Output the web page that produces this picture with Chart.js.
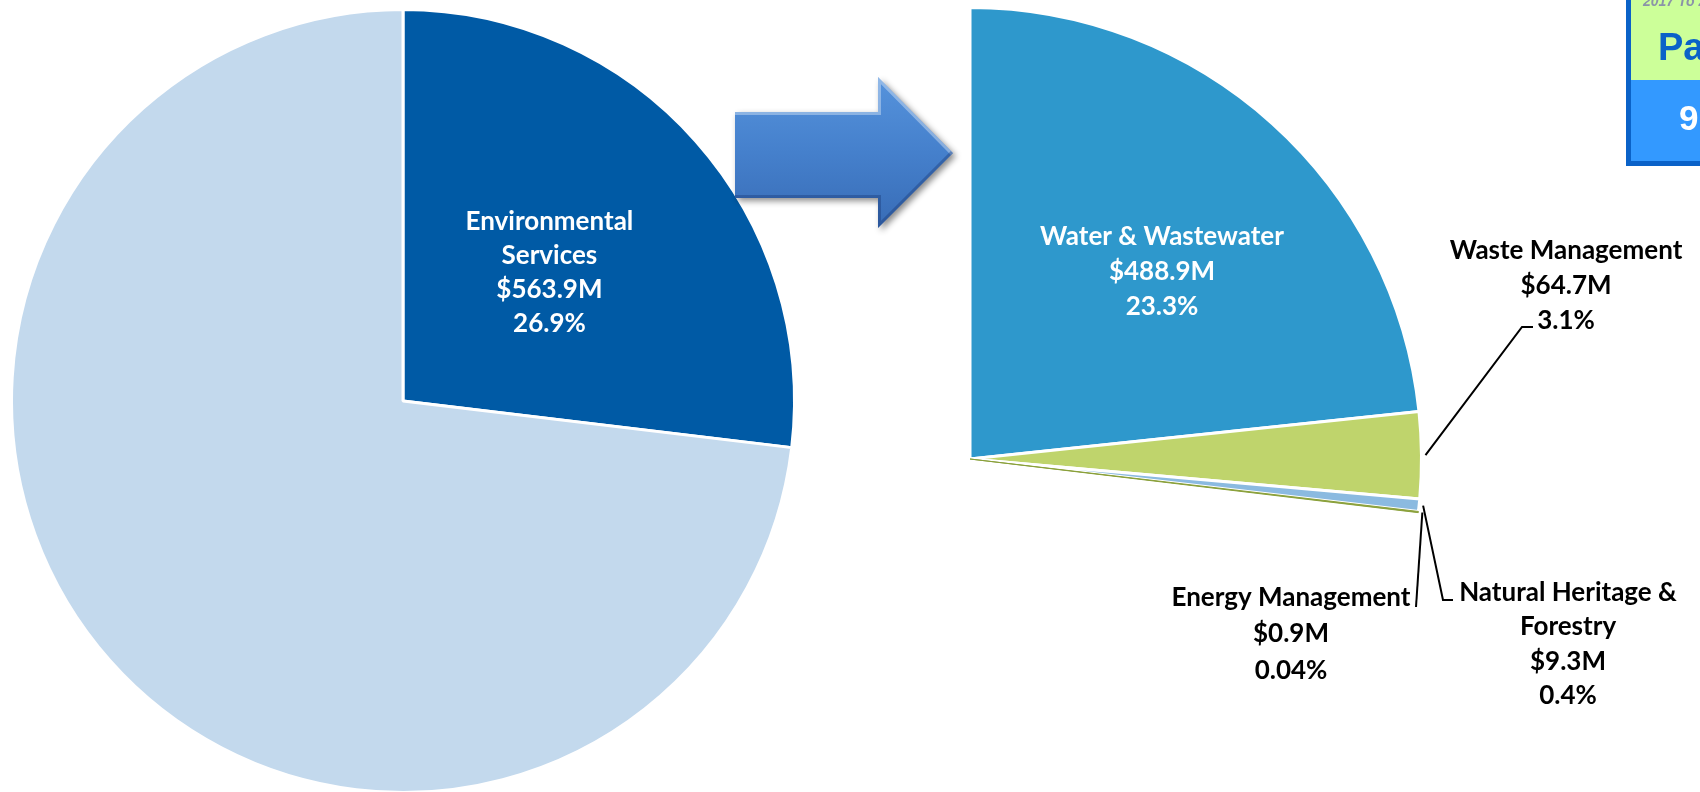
<!DOCTYPE html>
<html>
<head>
<meta charset="utf-8">
<script src="https://cdn.jsdelivr.net/npm/chart.js@4"></script>
<style>
  html, body { margin: 0; padding: 0; background: #fff; overflow: hidden; width: 1700px; height: 792px; }
  canvas { position: absolute; left: 0; top: 0; }
</style>
</head>
<body>
<canvas id="total" width="1700" height="800"></canvas>
<canvas id="detail" width="1700" height="920"></canvas>
<script>
// whole budget ($M)
const totalLabels = ["Environmental Services", "Other Services"];
const totalNames = [["Environmental", "Services"], []];
const totalValues = [563.9, 1532.4];
const totalPct = ["26.9%", ""];

// Environmental Services breakdown ($M); the rest of the budget is an invisible slice
const detailLabels = ["Water & Wastewater", "Waste Management", "Natural Heritage & Forestry", "Energy Management", "Other Services"];
const detailNames = [["Water & Wastewater"], ["Waste Management"], ["Natural Heritage &", "Forestry"], ["Energy Management"], []];
const detailValues = [488.9, 64.7, 9.3, 0.9, 1532.4];
const detailPct = ["23.3%", "3.1%", "0.4%", "0.04%", ""];

const FONT = "bold 26px Lato, 'Open Sans', sans-serif";

function money(v) { return "$" + v.toFixed(1) + "M"; }

function textBlock(ctx, lines, x, cy, gap, color) {
  ctx.save();
  ctx.font = FONT;
  ctx.fillStyle = color;
  ctx.textAlign = "center";
  ctx.textBaseline = "middle";
  const top = cy - (lines.length - 1) * gap / 2;
  lines.forEach((t, i) => ctx.fillText(t, x, top + i * gap));
  ctx.restore();
}

// point just outside a slice, on its middle angle
function rimPoint(el, extra) {
  const p = el.getProps(["x", "y", "startAngle", "endAngle", "outerRadius"], true);
  const mid = (p.startAngle + p.endAngle) / 2;
  return [p.x + Math.cos(mid) * (p.outerRadius + extra), p.y + Math.sin(mid) * (p.outerRadius + extra)];
}

const totalLabelPlugin = {
  id: "totalLabel",
  afterDatasetsDraw(chart) {
    const el = chart.getDatasetMeta(0).data[0];
    const pos = el.tooltipPosition(true);
    const lines = totalNames[0].concat([money(totalValues[0]), totalPct[0]]);
    textBlock(chart.ctx, lines, pos.x, pos.y + 2, 34, "#fff");
  }
};

// label anchors and leader elbows for the breakdown pie
const detailAnchor = [[1162, 272], [1566, 286], [1568, 644], [1291, 634]];
const detailGap = [35, 35, 34.5, 36.5];
const detailLeader = [null, [[1522, 327], [1533, 327]], [[1443, 600], [1453, 600]], [[1416, 607]]];

const detailLabelPlugin = {
  id: "detailLabel",
  afterDatasetsDraw(chart) {
    const ctx = chart.ctx;
    const meta = chart.getDatasetMeta(0);
    detailAnchor.forEach((a, i) => {
      const lines = detailNames[i].concat([money(detailValues[i]), detailPct[i]]);
      textBlock(ctx, lines, a[0], a[1], detailGap[i], i === 0 ? "#fff" : "#000");
      if (detailLeader[i]) {
        const s = rimPoint(meta.data[i], 4);
        ctx.save();
        ctx.strokeStyle = "#000";
        ctx.lineWidth = 2;
        ctx.beginPath();
        ctx.moveTo(s[0], s[1]);
        detailLeader[i].forEach(p => ctx.lineTo(p[0], p[1]));
        ctx.stroke();
        ctx.restore();
      }
    });
  }
};

// arrow between the pies and the clipped page box at top right
const decorPlugin = {
  id: "decor",
  afterDraw(chart) {
    const ctx = chart.ctx;
    ctx.save();
    const arrow = () => {
      ctx.beginPath();
      ctx.moveTo(735, 112); ctx.lineTo(878, 112); ctx.lineTo(878, 77);
      ctx.lineTo(953, 153); ctx.lineTo(878, 228); ctx.lineTo(878, 198);
      ctx.lineTo(735, 198); ctx.closePath();
    };
    ctx.shadowColor = "rgba(0,0,0,0.45)";
    ctx.shadowBlur = 6;
    ctx.shadowOffsetX = 3;
    ctx.shadowOffsetY = 3;
    const g = ctx.createLinearGradient(0, 77, 0, 228);
    g.addColorStop(0, "#5693dc");
    g.addColorStop(0.5, "#4580cc");
    g.addColorStop(1, "#386cb6");
    ctx.fillStyle = g;
    arrow();
    ctx.fill();
    ctx.shadowColor = "transparent";
    ctx.save();
    arrow();
    ctx.clip();
    ctx.strokeStyle = "rgba(255,255,255,0.35)";
    ctx.lineWidth = 6;
    ctx.beginPath();
    ctx.moveTo(735, 112); ctx.lineTo(878, 112); ctx.lineTo(878, 77); ctx.lineTo(953, 153);
    ctx.stroke();
    ctx.strokeStyle = "rgba(20,50,110,0.35)";
    ctx.beginPath();
    ctx.moveTo(735, 198); ctx.lineTo(878, 198); ctx.lineTo(878, 228); ctx.lineTo(953, 153);
    ctx.stroke();
    ctx.restore();

    ctx.fillStyle = "#ccff99";
    ctx.fillRect(1628, 0, 80, 80);
    ctx.fillStyle = "#3399ff";
    ctx.fillRect(1628, 80, 80, 83);
    ctx.strokeStyle = "#0a62c8";
    ctx.lineWidth = 5;
    ctx.strokeRect(1628.5, -10, 100, 173.5);
    ctx.font = "bold italic 14px 'Liberation Sans', Arial, sans-serif";
    ctx.fillStyle = "#8a93a8";
    ctx.textBaseline = "alphabetic";
    ctx.fillText("2017 To 20", 1643, 6);
    ctx.font = "bold 38px 'Liberation Sans', Arial, sans-serif";
    ctx.fillStyle = "#0a62c8";
    ctx.fillText("Pa", 1658, 60);
    ctx.font = "bold 35px 'Liberation Sans', Arial, sans-serif";
    ctx.fillStyle = "#fff";
    ctx.fillText("9", 1679, 130);
    ctx.restore();
  }
};

const common = {
  responsive: false,
  animation: false,
  events: [],
  plugins: { legend: { display: false }, tooltip: { enabled: false } }
};

new Chart(document.getElementById("total").getContext("2d"), {
  type: "pie",
  data: {
    labels: totalLabels,
    datasets: [{
      data: totalValues,
      backgroundColor: ["#005aa5", "#c3d9ed"],
      borderColor: "#fff",
      borderWidth: 3
    }]
  },
  options: Object.assign({}, common, {
    layout: { padding: { left: 10, top: 8, right: 904, bottom: 6 } }
  }),
  plugins: [totalLabelPlugin]
});

new Chart(document.getElementById("detail").getContext("2d"), {
  type: "pie",
  data: {
    labels: detailLabels,
    datasets: [{
      data: detailValues,
      backgroundColor: ["#2e98cc", "#bfd46c", "#8bbae0", "#8aa03a", "rgba(0,0,0,0)"],
      borderColor: ["#fff", "#fff", "#fff", "#8aa03a", "rgba(0,0,0,0)"],
      borderWidth: [3, 3, 3, 1, 0]
    }]
  },
  options: Object.assign({}, common, {
    layout: { padding: { left: 517, top: 6, right: 277, bottom: 8 } }
  }),
  plugins: [detailLabelPlugin, decorPlugin]
});
</script>
</body>
</html>
